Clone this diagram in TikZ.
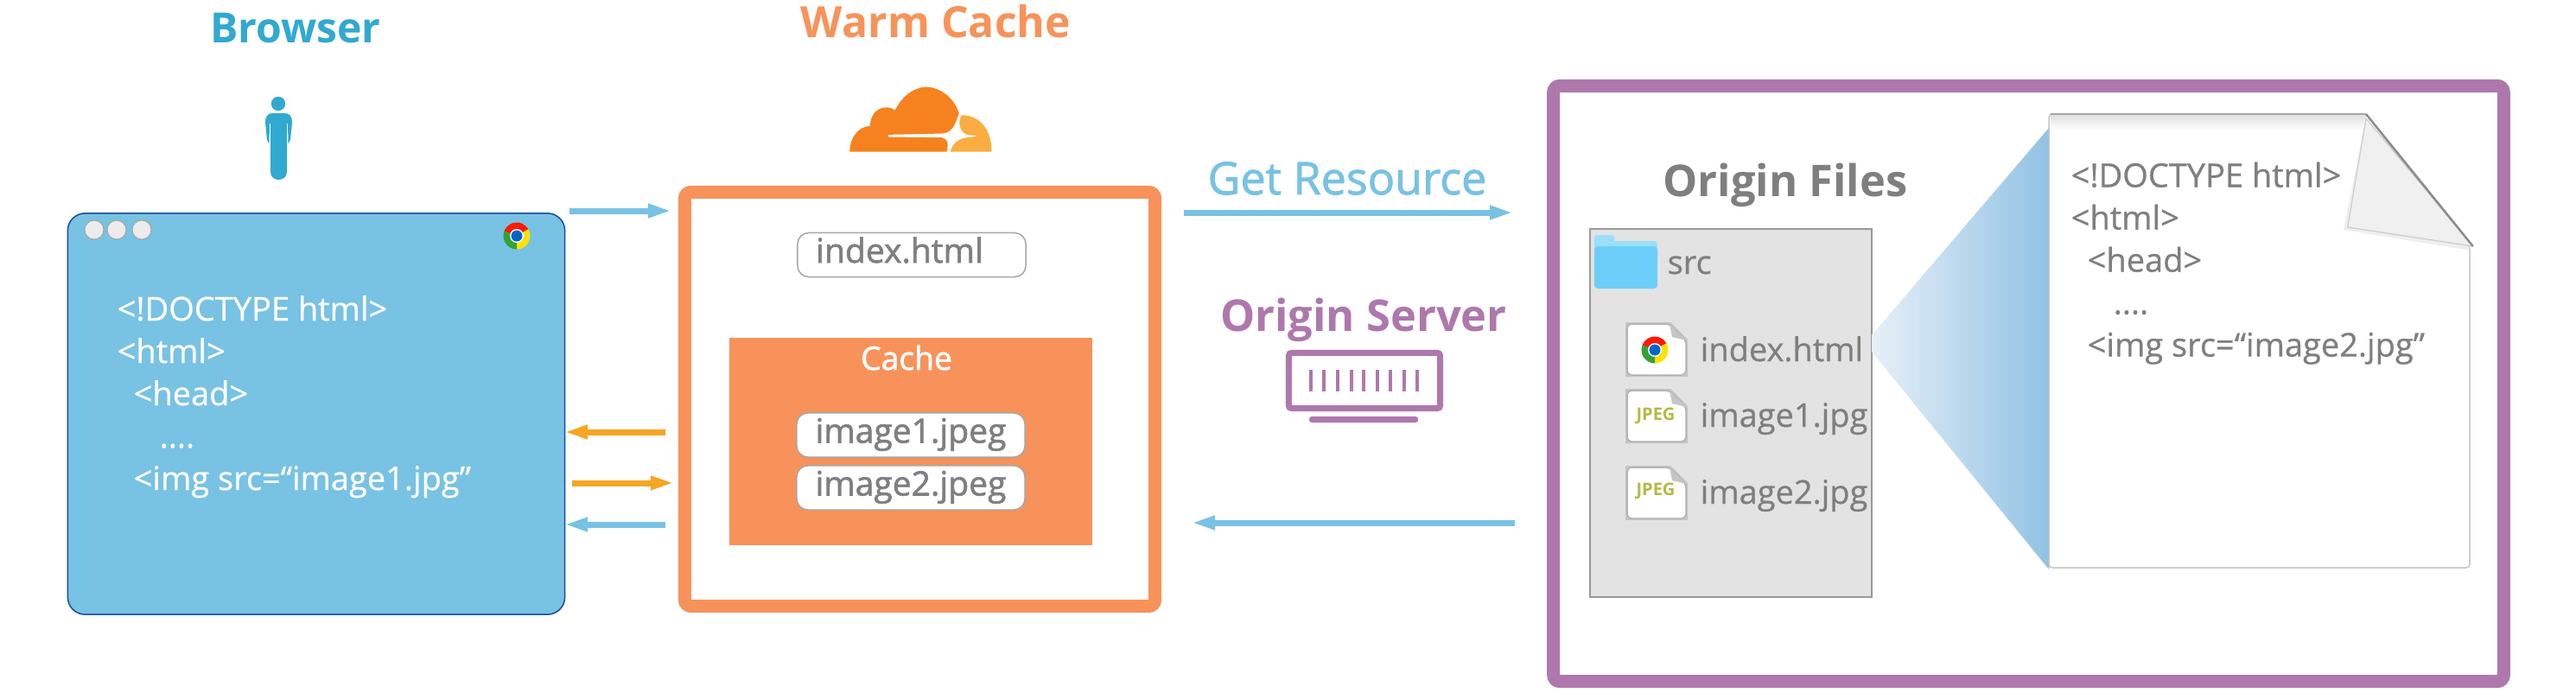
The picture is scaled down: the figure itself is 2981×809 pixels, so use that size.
\documentclass[tikz,border=0pt]{standalone}
\usepackage{fontspec}
\setmainfont{Open Sans}
\newfontfamily\semifont[FakeBold=1.6]{Open Sans}
\newfontfamily\lightfont[FakeBold=0.6]{Open Sans}
\usetikzlibrary{positioning, arrows.meta}
\definecolor{skyblue}{HTML}{78C2E3}
\definecolor{teal}{HTML}{31A9D0}
\definecolor{warm}{HTML}{F7935A}
\definecolor{amber}{HTML}{F5A623}
\definecolor{plum}{HTML}{AE78AC}
\definecolor{ink}{HTML}{7F7F7F}
\definecolor{cfdark}{HTML}{F6821F}
\definecolor{cflight}{HTML}{FBAD41}
\definecolor{folderback}{HTML}{9ADFFC}
\definecolor{folderfront}{HTML}{6DCFF9}
\definecolor{wedgeleft}{HTML}{E6F0F8}
\definecolor{wedgeright}{HTML}{92C2E4}
\definecolor{jpegtext}{HTML}{B5B944}

\begin{document}
\begin{tikzpicture}[
        x=0.01cm, y=-0.01cm,
        title/.style={font=\bfseries\fontsize{14.4}{17}\selectfont, anchor=base, inner sep=0},
        codeline/.style={font=\lightfont\fontsize{10.8}{13}\selectfont, anchor=base west, inner sep=0},
        window/.style={draw=blue!35!teal!70!black, fill=skyblue, line width=0.015cm, rounded corners=0.2cm, minimum width=5.75cm, minimum height=4.64cm},
        frame/.style={draw, line width=0.15cm, rounded corners=0.075cm},
        filebox/.style={draw=gray!70, fill=white, line width=0.015cm, rounded corners=0.13cm, minimum width=2.64cm, minimum height=0.51cm, inner sep=0, text height=0.27cm, text depth=0.09cm, text=ink, font=\semifont\fontsize{11.1}{13}\selectfont},
        filename/.style={codeline, text=ink, font=\lightfont\fontsize{10.8}{13}\selectfont},
        arrow/.style={-{Triangle[length=0.27cm, width=0.15cm]}, line width=0.07cm},
        jpeglabel/.style={font=\bfseries\fontsize{5.7}{7}\selectfont, text=jpegtext, anchor=center, inner sep=0},
        chromeicon/.pic={
            \fill[red!80!orange] (0,0) -- (200:15.5) arc[start angle=200, end angle=330, radius=15.5] -- cycle;
            \fill[yellow!85!orange] (0,0) -- (330:15.5) arc[start angle=330, end angle=450, radius=15.5] -- cycle;
            \fill[green!55!black!80] (0,0) -- (90:15.5) arc[start angle=90, end angle=200, radius=15.5] -- cycle;
            \fill[white] (0,0) circle[radius=8];
            \fill[blue!50!cyan!80!black] (0,0) circle[radius=6.5];
        },
        fileicon/.pic={
            \fill[gray, opacity=0.3] (-2,-2) -- (50,-2) -- (70,18) -- (70,61) -- (-2,61) -- cycle;
            \draw[gray!60, fill=white, line width=0.015cm, rounded corners=0.05cm] (0,0) -- (49,0) -- (68,19) -- (68,59) -- (0,59) -- cycle;
            \fill[gray!45] (49,0) -- (68,19) -- (52,15) -- cycle;
        }
    ]
    \useasboundingbox (0,0) rectangle (2981,809);

    \node[title, text=teal, font=\bfseries\fontsize{13.7}{17}\selectfont] (BrowserTitle) at (342,50) {Browser};
    \node[title, text=warm, font=\bfseries\fontsize{14.2}{17}\selectfont] (CacheTitle) at (1083,43) {Warm Cache};
    \node[title, text=skyblue, font=\semifont\fontsize{14.8}{17}\selectfont] (GetTitle) at (1559,225) {Get Resource};
    \node[title, text=plum] (ServerTitle) at (1578,383) {Origin Server};
    \node[title, text=ink] (FilesTitle) at (2066,227) {Origin Files};

    % person
    \fill[teal] (322,120) circle[radius=8.2];
    \fill[teal] (307,142) .. controls (307,133) and (311,131) .. (316,131) -- (329,131) .. controls (334,131) and (338,133) .. (338,142) -- (336,162) -- (333.5,166) -- (333,143) -- (332,143) -- (332,199) .. controls (332,211) and (313,211) .. (313,199) -- (313,143) -- (312,143) -- (311.5,166) -- (309,162) -- cycle;

    % cloud
    \begin{scope}[shift={(950,80)}, x=0.00333cm, y=-0.00333cm]
        \fill[cfdark] (100,287) .. controls (100,240) and (130,198) .. (172,198) .. controls (168,150) and (215,115) .. (258,143) .. controls (285,85) and (335,62) .. (365,62) .. controls (420,62) and (470,110) .. (480,155) .. controls (470,175) and (465,222) .. (420,224) -- (235,228) -- (235,236) -- (420,238) .. controls (440,240) and (445,260) .. (437,287) -- cycle;
        \fill[cflight] (490,160) .. controls (550,160) and (595,210) .. (593,287) -- (450,287) .. controls (455,265) and (475,240) .. (510,238) -- (547,233) -- (510,228) .. controls (490,225) and (470,190) .. (490,160) -- cycle;
    \end{scope}

    % browser window
    \node[window] (Browser) at (366,479) {};
    \foreach \cx in {109,135,164}
        \draw[gray!70, fill=gray!15, line width=0.01cm] (\cx,266) circle[radius=11];
    \pic at (598,273) {chromeicon};
    \node[codeline, text=white] (BrowserDoc) at (135,371) {<!DOCTYPE html>};
    \node[codeline, text=white, below=0.49cm of BrowserDoc.base west, anchor=base west] (BrowserHtml) {<html>};
    \node[codeline, text=white, below right=0.49cm and 0.19cm of BrowserHtml.base west, anchor=base west] (BrowserHead) {<head>};
    \node[codeline, text=white, below right=0.49cm and 0.30cm of BrowserHead.base west, anchor=base west] (BrowserDots) {....};
    \node[codeline, text=white, below=0.98cm of BrowserHead.base west, anchor=base west] (BrowserImg) {<img src=“image1.jpg”};

    % cache
    \node[frame, draw=warm, minimum width=5.44cm, minimum height=4.79cm] (CacheFrame) at (1064.5,462) {};
    \node[filebox] (Index) at (1055,295) {index.html\kern0.28cm};
    \node[fill=warm, minimum width=4.2cm, minimum height=2.4cm] (CacheBox) at (1054,511) {};
    \node[title, text=white, font=\semifont\fontsize{10.6}{13}\selectfont] (CacheLabel) at (1049,428) {Cache};
    \node[filebox] (ImageA) at (1054,503.5) {image1.jpeg};
    \node[filebox] (ImageB) at (1054,564.5) {image2.jpeg};

    % origin server
    \node[draw=plum, line width=0.07cm, rounded corners=0.03cm, minimum width=1.75cm, minimum height=0.64cm] (Monitor) at (1579,440.5) {};
    \foreach \bx in {1517,1532,1548,1564,1578,1594,1609,1625,1640}
        \fill[plum] (\bx-2,428) rectangle (\bx+2,453);
    \node[fill=plum, rounded corners=0.03cm, minimum width=1.26cm, minimum height=0.07cm, inner sep=0] (MonitorBase) at (1578,485.5) {};

    % origin files
    \node[frame, draw=plum, minimum width=10.99cm, minimum height=6.89cm] (OriginFrame) at (2347.5,444) {};
    \node[draw=gray!80, fill=gray!22, line width=0.02cm, minimum width=3.26cm, minimum height=4.26cm] (Panel) at (2003,478) {};
    \fill[folderback, rounded corners=0.03cm] (1845,272) rectangle (1868,300);
    \fill[folderback, rounded corners=0.04cm] (1845,279) rectangle (1918,300);
    \fill[folderfront, rounded corners=0.04cm] (1845,285) rectangle (1918,334);
    \node[filename] (SrcLabel) at (1929,317) {src};
    \pic at (1883,375) {fileicon};
    \pic at (1915,405) {chromeicon};
    \pic at (1883,452) {fileicon};
    \pic at (1883,541) {fileicon};
    \node[jpeglabel] (JpegA) at (1916,481) {JPEG};
    \node[jpeglabel] (JpegB) at (1916,568) {JPEG};
    \node[filename] (NameIndex) at (1967,418) {index.html};
    \node[filename] (NameA) at (1967,494) {image1.jpg};
    \node[filename] (NameB) at (1967,583) {image2.jpg};

    % zoomed page
    \shade[left color=wedgeleft, right color=wedgeright] (2166,388) -- (2371,148) -- (2371,659) -- (2166,407) -- cycle;
    \draw[gray!45, fill=white, line width=0.015cm, rounded corners=0.04cm] (2371,132) -- (2738,132) -- (2858,285) -- (2858,657) -- (2371,657) -- cycle;
    \shade[top color=gray!25, bottom color=white] (2373,133) -- (2738,133) -- (2734,150) -- (2373,150) -- cycle;
    \draw[gray!70, line width=0.02cm] (2373,132) -- (2738,132);
    \fill[gray!30, opacity=0.4] (2738,137) -- (2712,266) -- (2860,290) -- cycle;
    \draw[gray!40, fill=gray!12, line width=0.012cm] (2738,137) -- (2716.7,263) -- (2861.7,285) -- cycle;
    \draw[gray!90, line width=0.025cm] (2738,132) -- (2861.7,285);

    \node[codeline, text=ink] (PageDoc) at (2396,216.5) {<!DOCTYPE html>};
    \node[codeline, text=ink, below=0.49cm of PageDoc.base west, anchor=base west] (PageHtml) {<html>};
    \node[codeline, text=ink, below right=0.49cm and 0.19cm of PageHtml.base west, anchor=base west] (PageHead) {<head>};
    \node[codeline, text=ink, below right=0.49cm and 0.30cm of PageHead.base west, anchor=base west] (PageDots) {....};
    \node[codeline, text=ink, below=0.98cm of PageHead.base west, anchor=base west] (PageImg) {<img src=“image2.jpg”};

    % arrows
    \coordinate (ReqA) at (659,244);
    \coordinate (ReqB) at (777,244);
    \coordinate (GetA) at (1370,246);
    \coordinate (GetB) at (1751,246);
    \coordinate (BackA) at (1753,605);
    \coordinate (BackB) at (1379,605);
    \coordinate (ImgInA) at (770,500);
    \coordinate (ImgInB) at (653,500);
    \coordinate (ImgReqA) at (662,559);
    \coordinate (ImgReqB) at (780,559);
    \coordinate (RetA) at (770,607);
    \coordinate (RetB) at (653,607);

    \draw[arrow, skyblue] (ReqA) -- (ReqB);
    \draw[arrow, skyblue] (GetA) -- (GetB);
    \draw[arrow, skyblue] (BackA) -- (BackB);
    \draw[arrow, amber] (ImgInA) -- (ImgInB);
    \draw[arrow, amber] (ImgReqA) -- (ImgReqB);
    \draw[arrow, skyblue] (RetA) -- (RetB);

\end{tikzpicture}
\end{document}
